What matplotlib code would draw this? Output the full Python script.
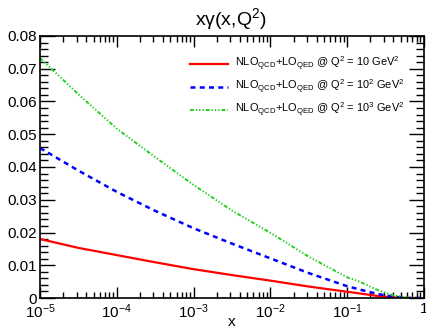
import numpy as np
import matplotlib
matplotlib.use("Agg")
import matplotlib.pyplot as plt
from matplotlib.ticker import LogLocator, MultipleLocator, FixedLocator

plt.rcParams['font.family'] = ['Liberation Sans', 'DejaVu Sans']
plt.rcParams['mathtext.fontset'] = 'custom'
plt.rcParams['mathtext.rm'] = 'Liberation Sans'
plt.rcParams['mathtext.it'] = 'Liberation Sans'
plt.rcParams['axes.unicode_minus'] = False

# log10(x) grid and read-off values
logx = [-5, -4.5, -4, -3.5, -3, -2.5, -2, -1.5, -1, -0.84, -0.6, -0.4, -0.2, -0.05]
q10 = [0.0180, 0.0153, 0.0131, 0.0109, 0.0088, 0.0070, 0.0053, 0.0035, 0.0019, 0.0014, 0.0006, 0.0002, 0.0, 0.0]
q100 = [0.0458, 0.0389, 0.0324, 0.0266, 0.0213, 0.0166, 0.0121, 0.0076, 0.0036, 0.0026, 0.0012, 0.0004, 0.0, 0.0]
q1000 = [0.0733, 0.0622, 0.0517, 0.0430, 0.0345, 0.0267, 0.0199, 0.0126, 0.0063, 0.0050, 0.0024, 0.0008, 0.0001, 0.0]
labels = [r'NLO$_{\mathrm{QCD}}$+LO$_{\mathrm{QED}}$ @ Q$^2$ = 10 GeV$^2$',
          r'NLO$_{\mathrm{QCD}}$+LO$_{\mathrm{QED}}$ @ Q$^2$ = 10$^2$ GeV$^2$',
          r'NLO$_{\mathrm{QCD}}$+LO$_{\mathrm{QED}}$ @ Q$^2$ = 10$^3$ GeV$^2$']

x = 10.0 ** np.array(logx)

fig = plt.figure(figsize=(4.27, 3.29), dpi=100)
ax = fig.add_axes([40/427, 1-298/329, 384/427, 262/329])

ax.plot(x, q10, color='#ff0000', lw=1.6, label=labels[0])
ax.plot(x, q100, color='#0000ff', lw=1.8, ls=(0, (2, 1.7)), label=labels[1])
ax.plot(x, q1000, color='#20d020', lw=1.4, ls=(0, (2, 1, 0.7, 1, 0.7, 1, 0.7, 1)), label=labels[2])

ax.set_xscale('log')
ax.set_xlim(1e-5, 1)
ax.set_ylim(0, 0.08)
ax.yaxis.set_major_locator(MultipleLocator(0.01))
ax.yaxis.set_minor_locator(MultipleLocator(0.002))
ax.yaxis.set_major_formatter(plt.FuncFormatter(lambda v, p: '0' if v == 0 else '%.2f' % v))
ax.xaxis.set_major_locator(FixedLocator([1e-5, 1e-4, 1e-3, 1e-2, 1e-1, 1]))
ax.xaxis.set_major_formatter(plt.FuncFormatter(
    lambda v, p: '1' if v == 1 else r'10$^{%d}$' % round(np.log10(v))))
ax.xaxis.set_minor_locator(LogLocator(base=10, subs=np.arange(2, 10)))
ax.xaxis.set_minor_formatter(plt.NullFormatter())

ax.tick_params(which='both', direction='in', top=True, right=True, labelsize=11, width=1)
ax.tick_params(axis='y', which='major', length=11, pad=2)
ax.tick_params(axis='y', which='minor', length=6)
ax.tick_params(axis='x', which='major', length=8, pad=3)
ax.tick_params(axis='x', which='minor', length=4)
for s in ax.spines.values():
    s.set_linewidth(1.2)

fig.text(232/427, 1-322/329, 'x', ha='center', va='center', fontsize=11)
fig.text(231/427, 1-19/329, r'x$\gamma$(x,Q$^2$)', ha='center', va='center', fontsize=14)

ax.legend(loc='upper left', bbox_to_anchor=(190/427, 1-55/329), bbox_transform=fig.transFigure,
          frameon=False, fontsize=7.9, handlelength=3.5, handletextpad=0.6,
          labelspacing=0.45, borderaxespad=0, borderpad=0)

fig.savefig('out.png', dpi=100)
